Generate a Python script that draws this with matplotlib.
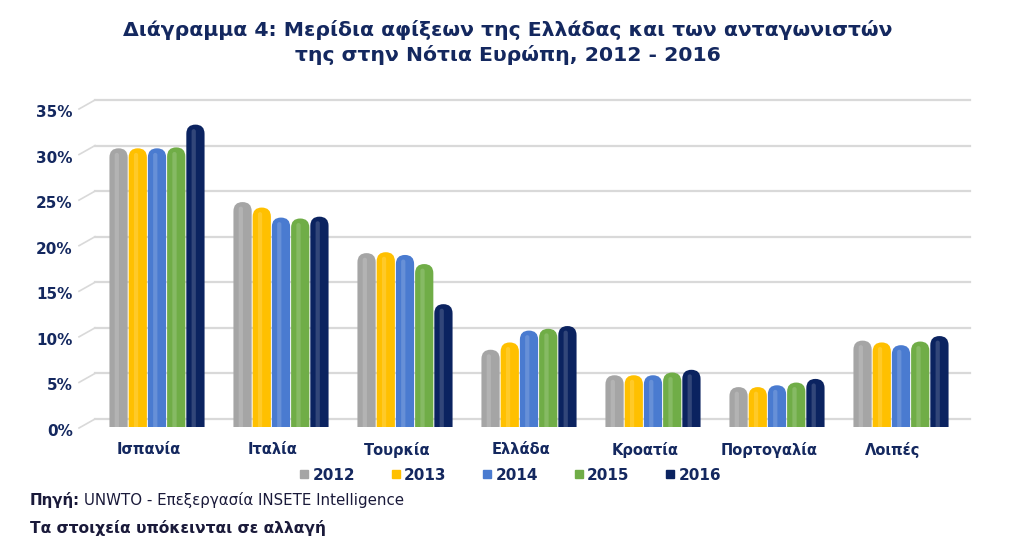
import matplotlib
matplotlib.use("Agg")
import matplotlib.pyplot as plt
import matplotlib.transforms as mtransforms
from matplotlib.patches import FancyBboxPatch
from matplotlib.lines import Line2D
import numpy as np

categories = ["Ισπανία", "Ιταλία", "Τουρκία", "Ελλάδα", "Κροατία", "Πορτογαλία", "Λοιπές"]
years = ["2012", "2013", "2014", "2015", "2016"]
v2012 = [29.7, 23.8, 18.2, 7.6, 4.8, 3.5, 8.6]
v2013 = [29.7, 23.2, 18.3, 8.4, 4.8, 3.5, 8.4]
v2014 = [29.7, 22.1, 18.0, 9.7, 4.8, 3.7, 8.1]
v2015 = [29.8, 22.0, 17.0, 9.9, 5.1, 4.0, 8.5]
v2016 = [32.3, 22.2, 12.6, 10.2, 5.4, 4.4, 9.1]
series = [v2012, v2013, v2014, v2015, v2016]
yticks = [0, 5, 10, 15, 20, 25, 30, 35]
ytick_labels = ["0%", "5%", "10%", "15%", "20%", "25%", "30%", "35%"]

colors = ["#A5A5A5", "#FFC000", "#4A7BD0", "#70AD47", "#0B2360"]
navy = "#14285F"

W, H = 1016, 554
fig = plt.figure(figsize=(W / 100, H / 100), dpi=100)
fig.patch.set_facecolor("white")

ax_left, ax_right = 95, 963
zero_px, top_px, bottom_px = 419, 100, 427
px_y = (zero_px - top_px) / 35.0
ymin = -(bottom_px - zero_px) / px_y
ax = fig.add_axes([ax_left / W, 1 - bottom_px / H,
                   (ax_right - ax_left) / W, (bottom_px - top_px) / H])
ax.set_xlim(-0.5, len(categories) - 0.5)
ax.set_ylim(ymin, 35)

# gridlines (extend slightly past the right edge like the reference)
for t in yticks:
    ax.axhline(t, xmin=0, xmax=1.008, color="#D9D9D9", lw=1.6, zorder=0, clip_on=False)

bw = 0.155
x = np.arange(len(categories))
px_x = (ax_right - ax_left) / len(categories)
aspect = px_x / px_y
ext = 2.0
for i, (vals, c) in enumerate(zip(series, colors)):
    bars = ax.bar(x + (i - 2) * bw, vals, bw, color=c, zorder=2, label=years[i])
    for b in bars:
        b.set_visible(False)
        p = FancyBboxPatch((b.get_x() + 0.004, -ext), b.get_width() - 0.008, b.get_height() + ext,
                           boxstyle=f"round,pad=0,rounding_size={(bw - 0.008) / 2}",
                           mutation_aspect=aspect, facecolor=c, edgecolor="none", zorder=3)
        ax.add_patch(p)
        hp = FancyBboxPatch((b.get_x() + b.get_width() * 0.3, -ext), b.get_width() * 0.22,
                            b.get_height() + ext - 0.5,
                            boxstyle=f"round,pad=0,rounding_size={b.get_width() * 0.11}",
                            mutation_aspect=aspect, facecolor="white", alpha=0.16,
                            edgecolor="none", zorder=4)
        ax.add_patch(hp)

for s in ax.spines.values():
    s.set_visible(False)
ax.set_yticks(yticks)
ax.set_yticklabels(ytick_labels, fontsize=11, fontweight="bold", color=navy)
ax.tick_params(axis="y", length=0, pad=16)
yoff = mtransforms.ScaledTranslation(0, -11 / 100, fig.dpi_scale_trans)
for lbl in ax.get_yticklabels():
    lbl.set_transform(lbl.get_transform() + yoff)
ax.set_xticks(x)
ax.set_xticklabels(categories, fontsize=10.5, fontweight="bold", color=navy)
ax.tick_params(axis="x", length=0, pad=11)
off = mtransforms.ScaledTranslation(-8 / 100, 0, fig.dpi_scale_trans)
for lbl in ax.get_xticklabels():
    lbl.set_transform(lbl.get_transform() + off)

# perspective stubs at the left of gridlines
for t in yticks:
    yp = 1 - (zero_px - t * px_y) / H
    fig.add_artist(Line2D([(ax_left - 16) / W, ax_left / W], [yp - 9 / H, yp],
                          color="#D9D9D9", lw=1.2))

handles = [plt.Line2D([], [], marker="s", ls="none", markersize=5.5,
                      markerfacecolor=c, markeredgecolor=c) for c in colors]
fig.legend(handles, years, loc="center", bbox_to_anchor=(510 / W, 1 - 475 / H),
           ncol=5, frameon=False, handletextpad=0.2, columnspacing=2.3,
           prop={"weight": "bold", "size": 11}, labelcolor=navy, handlelength=0.7)

fig.text(508 / W, 1 - 30 / H,
         "Διάγραμμα 4: Μερίδια αφίξεων της Ελλάδας και των ανταγωνιστών",
         ha="center", va="center", fontsize=14.7, fontweight="bold", color=navy)
fig.text(508 / W, 1 - 55 / H, "της στην Νότια Ευρώπη, 2012 - 2016",
         ha="center", va="center", fontsize=14.7, fontweight="bold", color=navy)

t1 = fig.text(30 / W, 1 - 500 / H, "Πηγή:", ha="left", va="center", fontsize=10.8,
              fontweight="bold", color="#1a1a3a")
fig.canvas.draw()
bb = t1.get_window_extent()
fig.text((bb.x1 + 4) / W, 1 - 500 / H, "UNWTO - Επεξεργασία INSETE Intelligence",
         ha="left", va="center", fontsize=10.8, color="#1a1a3a")
fig.text(30 / W, 1 - 528 / H, "Τα στοιχεία υπόκεινται σε αλλαγή", ha="left",
         va="center", fontsize=11.2, fontweight="bold", color="#1a1a3a")

fig.savefig("out.png", dpi=100, facecolor="white")
